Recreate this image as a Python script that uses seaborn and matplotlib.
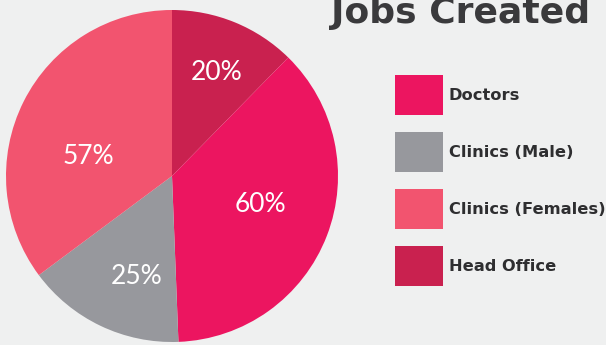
import matplotlib
matplotlib.use("Agg")
import matplotlib.pyplot as plt
import seaborn as sns

# Chart data
categories = ["Head Office", "Doctors", "Clinics (Male)", "Clinics (Females)"]
values = [20, 60, 25, 57]
colors = ["#C9214F", "#EC1560", "#97989D", "#F2546F"]
legend_order = ["Doctors", "Clinics (Male)", "Clinics (Females)", "Head Office"]
title = "Jobs Created"

sns.set_theme(style="white")
plt.rcParams["font.family"] = ["Lato", "DejaVu Sans"]

W, H = 606, 345
bg = "#EFF0F0"
fig = plt.figure(figsize=(W / 100, H / 100), dpi=100, facecolor=bg)
ax = fig.add_axes([0, 0, 1, 1])
ax.set_facecolor(bg)

# Pie drawn in a pixel-sized data space
cx, cy, r = 172, H - 176, 166
total = sum(values)
wedges, _, autotexts = ax.pie(
    values,
    colors=colors,
    startangle=90,
    counterclock=False,
    center=(cx, cy),
    radius=r,
    autopct=lambda p: f"{p * total / 100:.0f}%",
    wedgeprops=dict(linewidth=0),
    textprops=dict(color="white", fontsize=19, fontweight="normal"),
)

# Label offsets from the pie centre (pixels)
label_offsets = [(45, 104), (88, -28), (-35, -101), (-84, 19)]
for t, (dx, dy) in zip(autotexts, label_offsets):
    t.set_position((cx + dx, cy + dy))
    t.set_ha("center")
    t.set_va("center")

ax.set_xlim(0, W)
ax.set_ylim(0, H)
ax.set_aspect("equal")
ax.axis("off")

# Title, clipped at the top edge
fig.text(461 / W, 1 - 23 / H, title, ha="center", va="baseline",
         fontsize=26, fontweight="bold", color="#3A3A3C",
         family=["DejaVu Sans"])

# Legend built from the wedges
handle_map = dict(zip(categories, wedges))
fs = 11.7
fs_px = fs * 100 / 72
box_h_pt = 40 * 0.72
leg = fig.legend(
    [handle_map[c] for c in legend_order],
    legend_order,
    loc="upper left",
    bbox_to_anchor=(395 / W, 1 - 75 / H),
    bbox_transform=fig.transFigure,
    frameon=False,
    handlelength=48 / fs_px,
    handleheight=(box_h_pt / fs - 0.245) / 0.65,
    handletextpad=6 / fs_px,
    labelspacing=17 / fs_px,
    borderpad=0,
    borderaxespad=0,
    prop=dict(family=["DejaVu Sans"], weight="bold", size=fs),
)
for txt in leg.get_texts():
    txt.set_color("#2E2E30")

fig.savefig("out.png", dpi=100, facecolor=bg)
